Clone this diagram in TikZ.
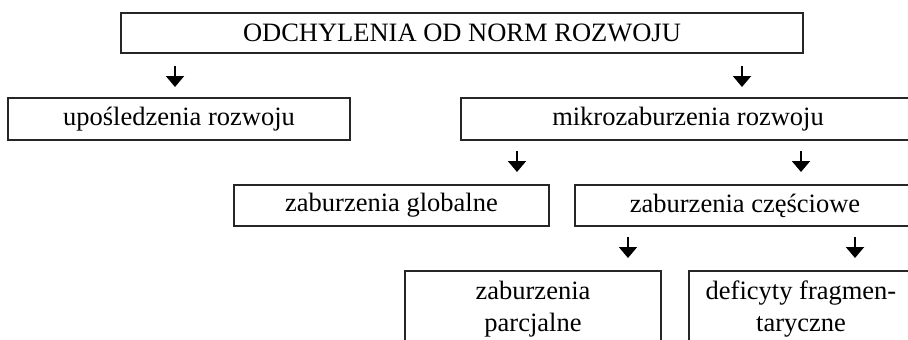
\documentclass[tikz,border=0pt]{standalone}
\usepackage{fontspec}
\setmainfont{Liberation Serif}
\usetikzlibrary{arrows.meta}
\tikzset{
  box/.style={draw=black!85, line width=2.6pt, rectangle, inner sep=0pt, anchor=center,
    font=\fontsize{26.5}{32}\selectfont, align=center},
  arr/.style={line width=2pt, -{Triangle[width=18pt,length=11pt]}},
}
\begin{document}
\begin{tikzpicture}[x=1pt,y=-1pt]
\useasboundingbox (0,0) rectangle (908,340);
\clip (0,0) rectangle (908,340);
\node[box, minimum width=682pt, minimum height=40pt] (top) at (462,33) {ODCHYLENIA OD NORM ROZWOJU};
\node[box, minimum width=342pt, minimum height=42pt] (upo) at (179,119) {upośledzenia rozwoju};
\node[box, minimum width=454pt, minimum height=42pt] (mikro) at (688,119) {mikrozaburzenia rozwoju};
\node[box, minimum width=315pt, minimum height=41pt] (glob) at (391.5,205.5) {zaburzenia globalne};
\node[box, minimum width=340pt, minimum height=41pt] (czesc) at (745,205.5) {zaburzenia częściowe};
\node[box, minimum width=256pt, minimum height=76pt] (parc) at (533,309) {zaburzenia\\parcjalne};
\node[box, minimum width=224pt, minimum height=76pt] (defi) at (801,309) {deficyty fragmen-\\taryczne};
\coordinate (a1s) at (175,66); \coordinate (a1e) at (175,87);
\coordinate (a2s) at (742,66); \coordinate (a2e) at (742,87);
\coordinate (a3s) at (517,151); \coordinate (a3e) at (517,172);
\coordinate (a4s) at (801,151); \coordinate (a4e) at (801,172);
\coordinate (a5s) at (628,237); \coordinate (a5e) at (628,258);
\coordinate (a6s) at (855,237); \coordinate (a6e) at (855,258);
\draw[arr] (a1s) -- (a1e);
\draw[arr] (a2s) -- (a2e);
\draw[arr] (a3s) -- (a3e);
\draw[arr] (a4s) -- (a4e);
\draw[arr] (a5s) -- (a5e);
\draw[arr] (a6s) -- (a6e);
\end{tikzpicture}
\end{document}
